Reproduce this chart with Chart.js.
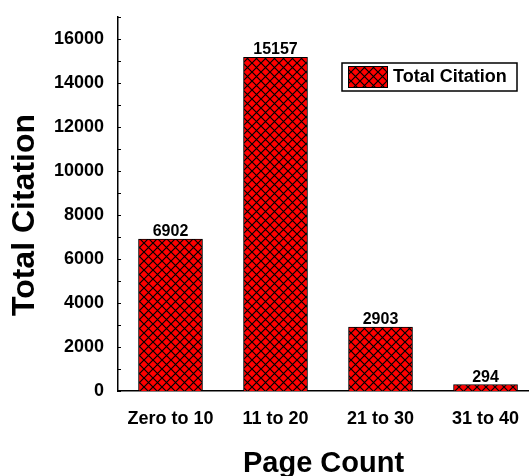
<!DOCTYPE html>
<html>
<head>
<meta charset="utf-8">
<script src="https://cdn.jsdelivr.net/npm/chart.js@4/dist/chart.umd.min.js"></script>
<style>
  html, body { margin: 0; padding: 0; background: #fff; }
  #wrap { width: 529px; height: 476px; }
</style>
</head>
<body>
<div id="wrap"><canvas id="chart" width="529" height="476"></canvas></div>
<script>
// data
const categories = ['Zero to 10', '11 to 20', '21 to 30', '31 to 40'];
const citations = [6902, 15157, 2903, 294];
const seriesName = 'Total Citation';
const yTicks = [0, 2000, 4000, 6000, 8000, 10000, 12000, 14000, 16000];

const FONT = "'Liberation Sans', Arial, sans-serif";
Chart.defaults.font.family = FONT;
Chart.defaults.font.weight = 'bold';
Chart.defaults.color = '#000';

// red fill with black diagonal cross-hatch
function makeHatch() {
  const c = document.createElement('canvas');
  c.width = 9;
  c.height = 9;
  const g = c.getContext('2d');
  g.fillStyle = '#ff0000';
  g.fillRect(0, 0, 9, 9);
  g.strokeStyle = '#000';
  g.lineWidth = 1.2;
  g.beginPath();
  g.moveTo(-1, -1); g.lineTo(10, 10);
  g.moveTo(10, -1); g.lineTo(-1, 10);
  g.stroke();
  return g.createPattern(c, 'repeat');
}
const hatch = makeHatch();

const points = citations.map((v, i) => ({ x: i, y: v }));

// minor ticks inside the y axis, value labels, y title and legend box
const extras = {
  id: 'extras',
  afterDraw(chart) {
    const ctx = chart.ctx;
    const y = chart.scales.y;
    const area = chart.chartArea;
    ctx.save();
    ctx.strokeStyle = '#000';
    ctx.lineWidth = 1;
    for (let v = 0; v <= y.max; v += 1000) {
      const py = Math.round(y.getPixelForValue(v)) + 0.5;
      ctx.beginPath();
      ctx.moveTo(area.left, py);
      ctx.lineTo(area.left + 3, py);
      ctx.stroke();
    }

    // value labels above the bars
    const meta = chart.getDatasetMeta(0);
    ctx.fillStyle = '#000';
    ctx.font = 'bold 16px ' + FONT;
    ctx.textAlign = 'center';
    ctx.textBaseline = 'alphabetic';
    meta.data.forEach((bar, i) => {
      ctx.fillText(String(citations[i]), bar.x, bar.y - 3);
    });

    // y axis title
    ctx.save();
    ctx.translate(25, 215);
    ctx.rotate(-Math.PI / 2);
    ctx.font = 'bold 32px ' + FONT;
    ctx.textBaseline = 'middle';
    ctx.fillText('Total Citation', 0, 0);
    ctx.restore();

    // legend
    const lx = 342, ly = 63, lw = 175, lh = 28;
    ctx.fillStyle = '#fff';
    ctx.fillRect(lx, ly, lw, lh);
    ctx.strokeStyle = '#000';
    ctx.lineWidth = 1.5;
    ctx.strokeRect(lx, ly, lw, lh);
    ctx.fillStyle = hatch;
    ctx.fillRect(348, 66, 40, 22);
    ctx.lineWidth = 1;
    ctx.strokeRect(348.5, 66.5, 39, 21);
    ctx.fillStyle = '#000';
    ctx.font = 'bold 18px ' + FONT;
    ctx.textAlign = 'left';
    ctx.textBaseline = 'middle';
    ctx.fillText(chart.data.datasets[0].label, 393, 77.5);
    ctx.restore();
  }
};

new Chart(document.getElementById('chart'), {
  type: 'bar',
  data: {
    datasets: [{
      label: seriesName,
      data: points,
      backgroundColor: hatch,
      borderColor: '#000',
      borderWidth: 1,
      barThickness: 64
    }]
  },
  options: {
    responsive: false,
    animation: false,
    layout: { padding: { top: 1, left: 0, right: 0, bottom: 0 } },
    plugins: {
      legend: { display: false },
      tooltip: { enabled: false }
    },
    scales: {
      x: {
        type: 'linear',
        offset: false,
        min: -0.5,
        max: 3.414,
        grid: { display: false, offset: false },
        border: { display: true, color: '#000', width: 1.5 },
        afterBuildTicks(scale) {
          scale.ticks = categories.map((c, i) => ({ value: i }));
        },
        afterFit(scale) { scale.height = 85; },
        ticks: {
          font: { size: 18, weight: 'bold' },
          padding: 9,
          maxRotation: 0,
          autoSkip: false,
          callback: (v) => categories[v]
        },
        title: {
          display: true,
          text: 'Page Count',
          font: { size: 29, weight: 'bold', lineHeight: 0.8 },
          padding: { top: 0, bottom: 0 }
        }
      },
      y: {
        min: 0,
        max: 17000,
        grid: { display: false },
        border: { display: true, color: '#000', width: 1.5 },
        afterBuildTicks(scale) {
          scale.ticks = yTicks.map(v => ({ value: v }));
        },
        afterFit(scale) { scale.width = 118; },
        ticks: {
          font: { size: 18, weight: 'bold' },
          padding: 6,
          callback: (v) => String(v)
        }
      }
    }
  },
  plugins: [extras]
});
</script>
</body>
</html>
